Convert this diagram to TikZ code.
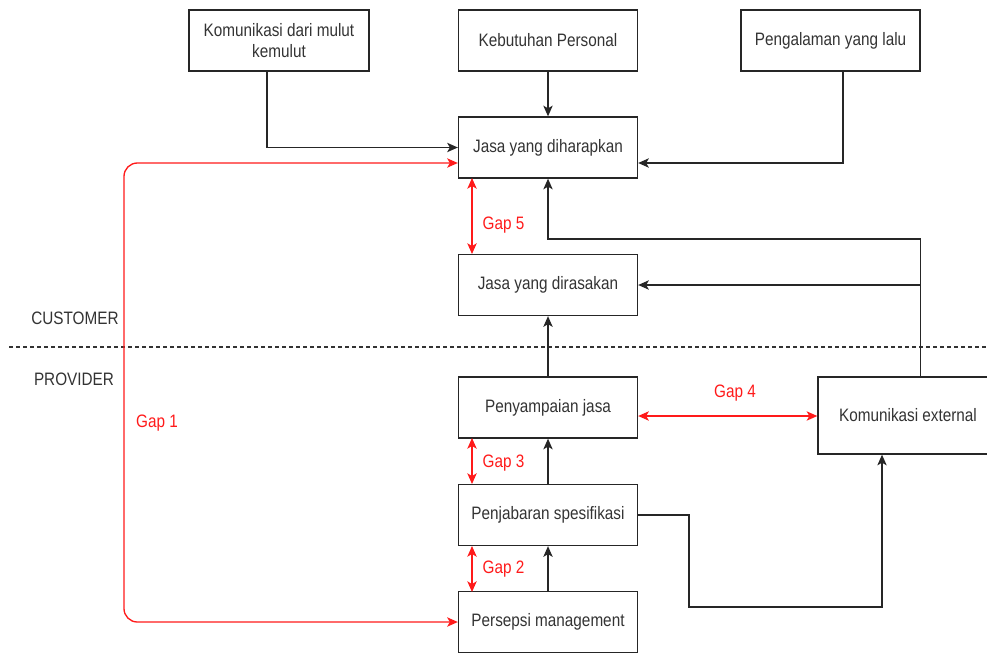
\documentclass[tikz,border=0pt]{standalone}
\usepackage{fontspec}
\setmainfont{Liberation Sans}[FakeStretch=0.85]
\usetikzlibrary{arrows.meta,calc}
\definecolor{gapred}{HTML}{FF1A1A}
\definecolor{txt}{HTML}{333333}
\tikzset{
  box/.style={draw=black!85, line width=1pt, rectangle, inner sep=2pt,
    minimum width=134.25pt, minimum height=45.75pt, align=center,
    text=txt, font=\fontsize{13.5pt}{16pt}\selectfont},
  lbl/.style={text=txt, font=\fontsize{13.5pt}{16pt}\selectfont, inner sep=0pt},
  gaplbl/.style={text=gapred, font=\fontsize{13.5pt}{16pt}\selectfont, inner sep=0pt},
  arr/.style={draw=black!85, line width=1pt, -{Stealth[length=8pt,width=7pt,inset=2pt]}},
  link/.style={draw=black!85, line width=1pt},
  gap/.style={draw=gapred, line width=1pt,
    {Stealth[length=8pt,width=7pt,inset=2pt]}-{Stealth[length=8pt,width=7pt,inset=2pt]}},
}
\begin{document}
\begin{tikzpicture}[x=0.75pt,y=-0.75pt]
\useasboundingbox (0,0) rectangle (987,653);

% customer side
\node[box, minimum width=135pt] (mulut) at (279,40.5) {Komunikasi dari mulut\\kemulut};
\node[box] (butuh) at (548,40.5) {Kebutuhan Personal};
\node[box] (alami) at (830.5,40.5) {Pengalaman yang lalu};
\node[box] (harap) at (548,147.5) {Jasa yang diharapkan};
\node[box] (rasa) at (548,285) {Jasa yang dirasakan};

% provider side
\node[box] (sampai) at (548,407.5) {Penyampaian jasa};
\node[box] (jabar) at (548,515) {Penjabaran spesifikasi};
\node[box] (persepsi) at (548,622) {Persepsi management};
\node[box, minimum width=135pt, minimum height=57.75pt] (ext) at (908,415.5) {Komunikasi external};

% divider between customer and provider
\draw[draw=black!80, line width=0.8pt, dash pattern=on 3pt off 2.25pt] (9,347) -- (987,347);
\node[lbl] (cust) at (75,318) {CUSTOMER};
\node[lbl] (prov) at (74,379) {PROVIDER};

% inputs to expected service
\draw[arr] ($(mulut.south)+(-12,0)$) |- (harap.west);
\draw[arr] (butuh) -- (harap);
\draw[arr] ($(alami.south)+(12.5,0)$) |- ($(harap.east)+(0,15.5)$);

% external communication feedback
\coordinate (extup) at ($(ext.north)+(12.7,0)$);
\draw[arr] (extup) |- (548,239) -- (harap.south);
\draw[arr] (extup |- rasa.east) -- (rasa.east);

% service chain
\draw[arr] (sampai) -- (rasa);
\draw[arr] (jabar) -- (sampai);
\draw[arr] (persepsi) -- (jabar);
\draw[arr] (jabar.east) -- (689,515) -- (689,607) -| ($(ext.south)+(-26,0)$);

% gaps
\draw[gap, rounded corners=10pt] ($(harap.west)+(0,15.5)$) -- (124,163) -- (124,622) -- (persepsi.west);
\node[gaplbl] (g1) at (157,423) {Gap 1};
\draw[gap] (472,178) -- (472,254);
\node[gaplbl] (g5) at (503.5,225) {Gap 5};
\draw[gap] (472,438) -- (472,484);
\node[gaplbl] (g3) at (503.5,463) {Gap 3};
\draw[gap] (472,546) -- (472,592);
\node[gaplbl] (g2) at (503.5,569) {Gap 2};
\draw[gap] ($(sampai.east)+(0,8.5)$) -- (ext.west |- 0,416);
\node[gaplbl] (g4) at (735,393) {Gap 4};
\end{tikzpicture}
\end{document}
